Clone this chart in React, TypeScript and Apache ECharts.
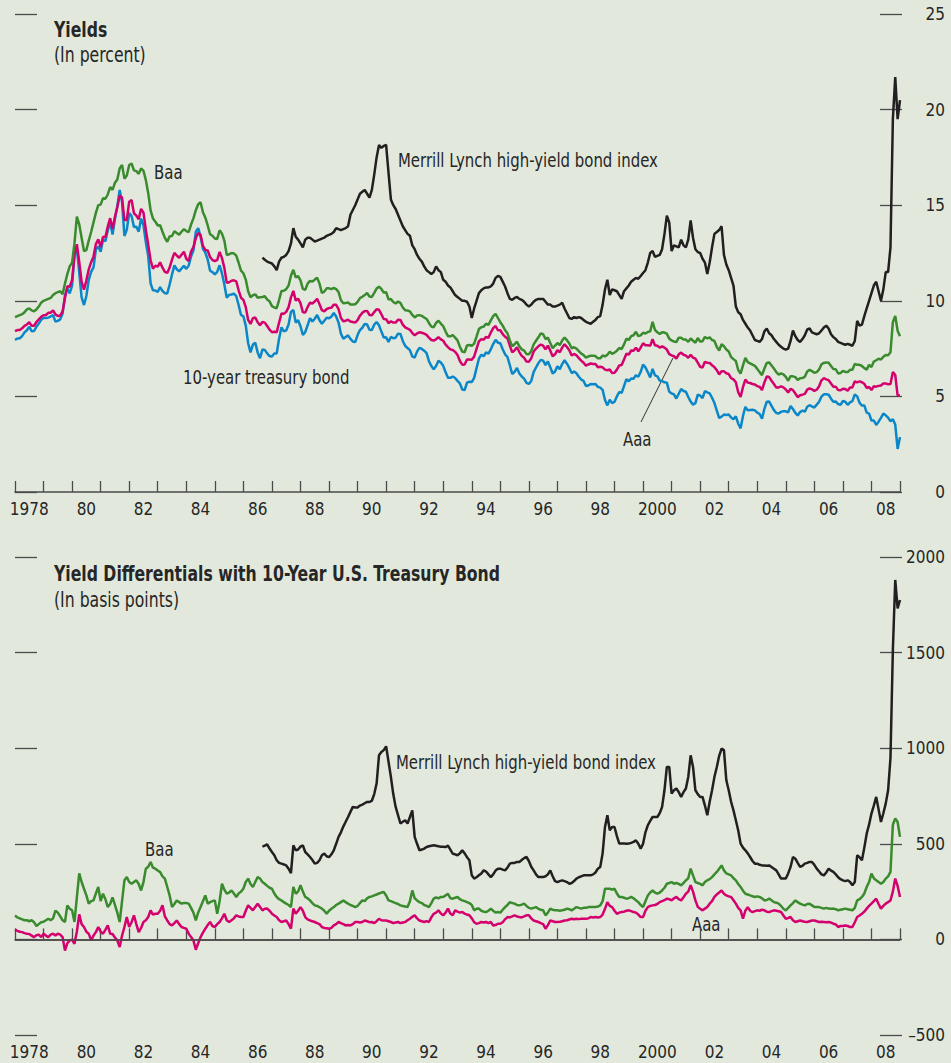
import React, { useEffect, useRef } from 'react';
import * as echarts from 'echarts';

// Monthly data, Jan 1978 (index 0) .. Jan 2009 (index 372)
const YEAR_CATS = ['1978','1979','1980','1981','1982','1983','1984','1985','1986','1987','1988','1989','1990','1991','1992','1993','1994','1995','1996','1997','1998','1999','2000','2001','2002','2003','2004','2005','2006','2007','2008'];

const T10 = [
  7.96, 8.03, 8.04, 8.15, 8.35, 8.46, 8.64, 8.41, 8.42, 8.64, 8.81, 9.01,
  9.10, 9.10, 9.12, 9.18, 9.25, 8.91, 8.95, 9.03, 9.33, 10.30, 10.65, 10.39,
  10.80, 12.41, 12.75, 11.47, 10.18, 9.78, 10.25, 11.10, 11.51, 11.75, 12.68, 12.84,
  12.57, 13.19, 13.12, 13.68, 14.10, 13.47, 14.28, 14.94, 15.80, 15.15, 13.39, 13.72,
  14.59, 14.43, 13.86, 13.87, 13.62, 14.30, 13.95, 13.06, 12.34, 10.91, 10.55, 10.54,
  10.46, 10.72, 10.51, 10.40, 10.38, 10.85, 11.38, 11.85, 11.65, 11.54, 11.69, 11.83,
  11.67, 11.84, 12.32, 12.63, 13.60, 13.80, 13.36, 12.72, 12.52, 12.16, 11.57, 11.50,
  11.38, 11.51, 11.86, 11.43, 10.85, 10.16, 10.31, 10.33, 10.37, 10.24, 9.78, 9.26,
  9.19, 8.70, 7.78, 7.30, 7.71, 7.80, 7.30, 7.00, 7.45, 7.43, 7.25, 7.11,
  7.08, 7.25, 7.25, 8.02, 8.61, 8.40, 8.45, 8.76, 9.42, 9.52, 8.86, 8.99,
  8.67, 8.21, 8.37, 8.72, 9.09, 8.92, 9.06, 9.26, 8.98, 8.80, 8.96, 9.11,
  9.09, 9.17, 9.36, 9.18, 8.86, 8.28, 8.02, 8.11, 8.19, 8.01, 7.87, 7.84,
  8.21, 8.47, 8.59, 8.79, 8.76, 8.48, 8.47, 8.75, 8.89, 8.72, 8.39, 8.08,
  8.09, 7.85, 8.11, 8.04, 8.07, 8.28, 8.27, 7.90, 7.65, 7.53, 7.42, 7.09,
  7.03, 7.34, 7.54, 7.48, 7.39, 7.26, 6.84, 6.59, 6.42, 6.59, 6.87, 6.77,
  6.60, 6.26, 5.98, 5.97, 6.04, 5.96, 5.81, 5.68, 5.36, 5.33, 5.72, 5.77,
  5.75, 5.97, 6.48, 6.97, 7.18, 7.10, 7.30, 7.24, 7.46, 7.74, 7.96, 7.81,
  7.78, 7.47, 7.20, 7.06, 6.63, 6.17, 6.28, 6.49, 6.20, 6.04, 5.93, 5.71,
  5.65, 5.81, 6.27, 6.51, 6.74, 6.91, 6.87, 6.64, 6.83, 6.53, 6.20, 6.30,
  6.58, 6.42, 6.69, 6.89, 6.71, 6.49, 6.22, 6.30, 6.21, 6.03, 5.88, 5.81,
  5.54, 5.57, 5.65, 5.64, 5.65, 5.50, 5.46, 5.34, 4.81, 4.53, 4.83, 4.65,
  4.72, 5.00, 5.23, 5.18, 5.54, 5.90, 5.79, 5.94, 5.92, 6.11, 6.03, 6.28,
  6.66, 6.52, 6.26, 5.99, 6.44, 6.10, 6.05, 5.83, 5.80, 5.74, 5.72, 5.24,
  5.16, 5.10, 4.89, 5.14, 5.39, 5.28, 5.24, 4.97, 4.73, 4.57, 4.65, 5.09,
  5.04, 4.91, 5.28, 5.21, 5.16, 4.93, 4.65, 4.26, 3.87, 3.94, 4.05, 4.03,
  4.05, 3.90, 3.81, 3.96, 3.57, 3.33, 3.98, 4.45, 4.27, 4.29, 4.30, 4.27,
  4.15, 4.08, 3.83, 4.35, 4.72, 4.73, 4.50, 4.28, 4.13, 4.10, 4.19, 4.23,
  4.22, 4.17, 4.50, 4.34, 4.14, 4.00, 4.18, 4.26, 4.20, 4.46, 4.54, 4.47,
  4.42, 4.57, 4.72, 4.99, 5.11, 5.11, 5.09, 4.88, 4.72, 4.73, 4.60, 4.56,
  4.76, 4.72, 4.56, 4.69, 4.75, 5.10, 5.00, 4.67, 4.52, 4.53, 4.15, 4.10,
  3.74, 3.74, 3.51, 3.68, 3.88, 4.10, 4.01, 3.89, 3.69, 3.81, 3.53, 2.25,
  2.87,
];

const AAA = [
  8.41, 8.47, 8.47, 8.56, 8.69, 8.76, 8.88, 8.69, 8.69, 8.89, 9.03, 9.16,
  9.25, 9.26, 9.37, 9.38, 9.50, 9.29, 9.20, 9.23, 9.44, 10.13, 10.76, 10.74,
  11.09, 12.38, 12.96, 12.04, 10.99, 10.58, 11.07, 11.64, 12.02, 12.31, 12.97, 13.21,
  12.81, 13.35, 13.33, 13.88, 14.32, 13.75, 14.38, 14.89, 15.49, 15.40, 14.22, 14.23,
  15.18, 15.27, 14.58, 14.46, 14.26, 14.81, 14.61, 13.71, 12.94, 12.12, 11.68, 11.83,
  11.79, 12.01, 11.73, 11.51, 11.46, 11.74, 12.15, 12.51, 12.37, 12.25, 12.41, 12.57,
  12.20, 12.08, 12.57, 12.81, 13.28, 13.55, 13.44, 12.87, 12.66, 12.63, 12.29, 12.13,
  12.08, 12.13, 12.56, 12.23, 11.72, 10.94, 10.97, 11.05, 11.07, 11.02, 10.55, 10.16,
  10.05, 9.67, 9.00, 8.79, 9.09, 9.13, 8.88, 8.72, 8.89, 8.86, 8.68, 8.49,
  8.36, 8.38, 8.36, 8.85, 9.33, 9.32, 9.42, 9.67, 10.18, 10.52, 10.01, 10.11,
  9.88, 9.40, 9.39, 9.67, 9.90, 9.86, 9.96, 10.11, 9.82, 9.51, 9.45, 9.57,
  9.62, 9.64, 9.80, 9.79, 9.57, 9.10, 8.93, 8.96, 9.01, 8.92, 8.89, 8.86,
  8.99, 9.22, 9.37, 9.46, 9.47, 9.26, 9.24, 9.41, 9.56, 9.53, 9.30, 9.05,
  9.04, 8.83, 8.93, 8.86, 8.86, 9.01, 9.00, 8.75, 8.61, 8.55, 8.48, 8.31,
  8.20, 8.29, 8.35, 8.33, 8.28, 8.22, 8.07, 7.95, 7.92, 7.99, 8.10, 7.98,
  7.91, 7.71, 7.58, 7.46, 7.43, 7.33, 7.17, 6.85, 6.66, 6.67, 6.93, 6.93,
  6.92, 7.08, 7.48, 7.88, 7.99, 7.97, 8.11, 8.07, 8.34, 8.57, 8.68, 8.46,
  8.46, 8.26, 8.12, 8.03, 7.65, 7.30, 7.41, 7.57, 7.32, 7.12, 7.02, 6.82,
  6.81, 6.99, 7.35, 7.50, 7.62, 7.71, 7.65, 7.46, 7.66, 7.39, 7.10, 7.20,
  7.42, 7.31, 7.55, 7.73, 7.58, 7.41, 7.14, 7.22, 7.15, 7.00, 6.87, 6.76,
  6.61, 6.67, 6.72, 6.69, 6.69, 6.53, 6.55, 6.52, 6.40, 6.37, 6.41, 6.22,
  6.24, 6.40, 6.62, 6.64, 6.93, 7.23, 7.19, 7.40, 7.39, 7.55, 7.36, 7.55,
  7.78, 7.68, 7.68, 7.64, 7.99, 7.67, 7.65, 7.55, 7.62, 7.55, 7.45, 7.21,
  7.15, 7.10, 6.98, 7.20, 7.29, 7.18, 7.13, 7.02, 7.17, 7.03, 6.97, 6.77,
  6.55, 6.51, 6.81, 6.76, 6.75, 6.63, 6.53, 6.37, 6.15, 6.32, 6.31, 6.21,
  6.17, 5.95, 5.89, 5.74, 5.22, 4.97, 5.49, 5.88, 5.72, 5.70, 5.65, 5.62,
  5.54, 5.50, 5.33, 5.73, 6.04, 6.01, 5.82, 5.65, 5.46, 5.47, 5.52, 5.47,
  5.36, 5.20, 5.40, 5.33, 5.15, 4.96, 5.06, 5.09, 5.13, 5.35, 5.42, 5.37,
  5.29, 5.35, 5.53, 5.84, 5.95, 5.89, 5.85, 5.68, 5.51, 5.51, 5.33, 5.32,
  5.40, 5.39, 5.30, 5.47, 5.47, 5.79, 5.73, 5.79, 5.74, 5.66, 5.44, 5.49,
  5.33, 5.53, 5.51, 5.55, 5.57, 5.68, 5.67, 5.64, 5.65, 6.28, 6.12, 5.05,
  5.05,
];

const BAA = [
  9.15, 9.20, 9.25, 9.30, 9.40, 9.55, 9.60, 9.50, 9.45, 9.55, 9.70, 9.90,
  10.00, 10.05, 10.10, 10.15, 10.30, 10.40, 10.45, 10.50, 10.35, 10.90, 11.40, 11.80,
  12.00, 13.00, 14.40, 14.00, 13.30, 12.60, 12.65, 13.15, 13.60, 14.10, 14.60, 15.00,
  15.03, 15.37, 15.34, 15.56, 15.95, 15.80, 16.17, 16.34, 16.92, 17.11, 16.39, 16.55,
  17.10, 17.18, 16.82, 16.78, 16.64, 16.92, 16.80, 16.32, 15.63, 14.73, 14.30, 14.14,
  13.94, 13.95, 13.61, 13.29, 13.09, 13.37, 13.39, 13.64, 13.55, 13.46, 13.61, 13.75,
  13.65, 13.59, 13.99, 14.31, 14.74, 15.05, 15.15, 14.63, 14.35, 13.94, 13.48, 13.40,
  13.26, 13.23, 13.69, 13.51, 13.15, 12.40, 12.43, 12.50, 12.48, 12.36, 11.99, 11.58,
  11.44, 11.11, 10.50, 10.19, 10.29, 10.34, 10.16, 10.18, 10.20, 10.24, 10.07, 9.97,
  9.72, 9.65, 9.61, 10.04, 10.51, 10.52, 10.61, 10.80, 11.31, 11.62, 11.23, 11.29,
  11.07, 10.62, 10.57, 10.90, 11.04, 11.00, 11.11, 11.21, 10.90, 10.41, 10.48, 10.65,
  10.65, 10.61, 10.67, 10.61, 10.46, 10.03, 9.87, 9.88, 9.91, 9.81, 9.81, 9.82,
  9.94, 10.14, 10.21, 10.30, 10.41, 10.22, 10.20, 10.41, 10.64, 10.74, 10.62, 10.43,
  10.45, 10.07, 10.09, 9.94, 9.86, 9.96, 9.89, 9.65, 9.51, 9.49, 9.45, 9.26,
  9.13, 9.23, 9.25, 9.21, 9.13, 9.05, 8.84, 8.65, 8.62, 8.84, 8.96, 8.81,
  8.67, 8.39, 8.15, 8.14, 8.21, 8.07, 7.93, 7.60, 7.34, 7.31, 7.66, 7.69,
  7.65, 7.76, 8.13, 8.52, 8.62, 8.65, 8.80, 8.74, 8.98, 9.20, 9.32, 9.10,
  8.88, 8.70, 8.46, 8.30, 7.93, 7.62, 7.73, 7.86, 7.62, 7.46, 7.40, 7.21,
  7.20, 7.37, 7.72, 7.91, 8.09, 8.30, 8.25, 8.00, 8.07, 7.79, 7.52, 7.66,
  7.79, 7.68, 7.92, 8.08, 7.94, 7.77, 7.52, 7.57, 7.50, 7.37, 7.24, 7.16,
  7.03, 7.09, 7.13, 7.12, 7.11, 6.99, 6.99, 7.14, 7.09, 7.18, 7.34, 7.23,
  7.29, 7.39, 7.53, 7.48, 7.72, 8.02, 7.95, 8.15, 8.20, 8.38, 8.15, 8.19,
  8.33, 8.29, 8.37, 8.40, 8.90, 8.48, 8.35, 8.26, 8.35, 8.34, 8.28, 8.02,
  7.93, 7.87, 7.84, 8.07, 8.07, 7.97, 7.97, 7.85, 8.03, 7.91, 7.81, 8.05,
  7.87, 7.89, 8.11, 8.03, 8.09, 7.95, 7.90, 7.58, 7.40, 7.73, 7.62, 7.45,
  7.35, 7.06, 6.95, 6.85, 6.38, 6.19, 6.62, 7.01, 6.79, 6.73, 6.66, 6.60,
  6.44, 6.27, 6.11, 6.46, 6.75, 6.78, 6.62, 6.46, 6.27, 6.14, 6.20, 6.15,
  6.02, 5.82, 6.06, 6.05, 6.01, 5.86, 5.95, 5.96, 6.03, 6.30, 6.39, 6.32,
  6.24, 6.27, 6.41, 6.68, 6.75, 6.78, 6.76, 6.59, 6.43, 6.42, 6.20, 6.22,
  6.34, 6.28, 6.27, 6.39, 6.39, 6.70, 6.65, 6.65, 6.59, 6.48, 6.40, 6.65,
  6.54, 6.82, 6.89, 6.97, 6.93, 7.07, 7.16, 7.15, 7.31, 8.88, 9.21, 8.43,
  8.14,
];

// Merrill Lynch high-yield index, Sep 1986 (month index 104) .. Jan 2009
const ML_START = 104;
const ML = [
  12.26, 12.15, 12.05, 12.00,
  11.95, 11.80, 11.60, 12.05, 12.25, 12.30, 12.40, 12.60, 13.00, 13.80, 13.35, 13.20,
  13.00, 12.80, 13.20, 13.30, 13.30, 13.20, 13.10, 13.15, 13.20, 13.25, 13.30, 13.40,
  13.45, 13.50, 13.60, 13.80, 13.75, 13.70, 13.75, 13.80, 13.90, 14.50, 14.75, 15.00,
  15.30, 15.60, 15.70, 15.80, 15.60, 15.40, 15.80, 16.60, 17.50, 18.15, 18.00, 18.10,
  18.15, 16.70, 15.30, 15.00, 14.80, 14.50, 14.20, 13.90, 13.70, 13.50, 13.40, 12.90,
  12.70, 12.40, 12.20, 12.05, 11.80, 11.60, 11.50, 11.40, 11.50, 11.80, 11.60, 11.50,
  11.10, 11.00, 10.80, 10.70, 10.50, 10.30, 10.20, 10.10, 10.00, 10.00, 9.95, 9.70,
  9.10, 9.60, 10.00, 10.40, 10.55, 10.65, 10.70, 10.70, 10.75, 10.90, 11.20, 11.30,
  11.25, 11.00, 10.75, 10.40, 10.10, 10.05, 10.15, 10.20, 10.10, 10.05, 9.95, 9.80,
  9.70, 9.80, 9.95, 10.05, 10.10, 10.10, 10.10, 9.95, 9.80, 9.80, 9.70, 9.70,
  9.75, 9.80, 9.90, 9.60, 9.35, 9.10, 9.05, 9.15, 9.10, 9.15, 9.10, 9.00,
  8.90, 8.85, 8.80, 8.90, 9.00, 9.15, 9.20, 9.80, 10.60, 11.10, 10.30, 10.60,
  10.55, 10.50, 10.30, 10.10, 10.50, 10.65, 10.80, 11.00, 11.10, 11.20, 11.15, 11.30,
  11.45, 11.60, 12.00, 12.50, 12.60, 12.30, 12.35, 12.40, 12.70, 13.50, 14.45, 14.10,
  12.60, 12.90, 12.85, 12.80, 13.20, 12.90, 12.80, 13.20, 14.20, 13.30, 12.70, 12.55,
  12.50, 12.20, 12.00, 11.40, 12.00, 12.80, 13.50, 13.60, 13.70, 13.90, 12.40, 11.90,
  11.60, 11.20, 10.80, 9.70, 9.40, 9.30, 9.00, 8.80, 8.60, 8.45, 8.20, 7.95,
  7.90, 7.85, 8.00, 8.40, 8.55, 8.30, 8.20, 8.00, 7.85, 7.70, 7.60, 7.50,
  7.45, 7.50, 7.90, 8.45, 8.15, 7.95, 7.85, 8.00, 8.20, 8.50, 8.55, 8.35,
  8.30, 8.25, 8.30, 8.45, 8.60, 8.70, 8.55, 8.25, 8.10, 8.00, 7.85, 7.80,
  7.75, 7.70, 7.75, 7.70, 7.65, 7.90, 8.95, 8.70, 8.75, 9.20, 9.60, 10.00,
  10.40, 10.80, 11.00, 10.50, 10.00, 10.60, 11.50, 11.50, 12.80, 19.50, 21.70, 19.50,
  20.50,
];

// Yield differentials vs 10-year treasury, basis points
const SPREAD_BAA = [
  125, 115, 110, 105, 100, 100, 95, 100, 90, 70, 80, 90,
  92, 100, 108, 100, 110, 150, 140, 120, 100, 91, 178, 160,
  152, 91, 220, 345, 300, 265, 230, 187, 200, 204, 240, 274,
  200, 239, 210, 169, 185, 220, 180, 140, 91, 200, 309, 326,
  300, 291, 300, 309, 290, 256, 300, 370, 380, 405, 375, 370,
  360, 352, 330, 318, 274, 230, 169, 185, 204, 195, 187, 190,
  190, 187, 165, 140, 99, 140, 169, 200, 230, 187, 195, 200,
  204, 134, 200, 291, 260, 239, 245, 256, 240, 222, 240, 250,
  265, 300, 318, 290, 274, 300, 326, 318, 300, 291, 280, 270,
  265, 240, 222, 210, 204, 195, 187, 180, 169, 274, 239, 250,
  283, 250, 222, 215, 204, 190, 178, 175, 168, 161, 150, 134,
  150, 160, 169, 180, 187, 195, 204, 195, 187, 180, 175, 169,
  175, 190, 204, 200, 215, 222, 225, 230, 235, 240, 245, 248,
  230, 204, 200, 195, 190, 185, 178, 175, 172, 169, 200, 256,
  215, 204, 195, 190, 180, 175, 169, 190, 213, 220, 215, 222,
  222, 230, 239, 215, 213, 218, 222, 210, 204, 200, 195, 190,
  180, 152, 160, 161, 150, 145, 143, 150, 161, 150, 140, 143,
  140, 155, 169, 180, 195, 190, 187, 180, 178, 182, 187, 175,
  165, 161, 165, 169, 160, 155, 152, 126, 140, 161, 155, 152,
  152, 150, 152, 155, 161, 158, 152, 160, 169, 165, 161, 165,
  165, 169, 170, 169, 170, 172, 178, 200, 265, 265, 265, 260,
  265, 240, 222, 222, 218, 213, 216, 222, 215, 205, 195, 180,
  169, 200, 230, 245, 256, 245, 239, 245, 256, 270, 291, 295,
  300, 291, 295, 290, 283, 295, 309, 320, 370, 335, 300, 295,
  290, 283, 300, 309, 315, 326, 340, 353, 370, 387, 361, 345,
  340, 335, 320, 309, 290, 274, 255, 239, 235, 230, 226, 222,
  225, 222, 215, 204, 206, 213, 205, 195, 192, 187, 175, 160,
  152, 165, 178, 190, 204, 195, 187, 182, 178, 185, 187, 178,
  169, 170, 169, 165, 161, 165, 161, 160, 161, 158, 152, 155,
  158, 161, 158, 155, 152, 165, 204, 210, 222, 240, 274, 300,
  344, 320, 309, 300, 291, 300, 318, 330, 353, 600, 632, 614,
  536,
];

const SPREAD_AAA = [
  51, 45, 40, 38, 33, 30, 28, 20, 12, 22, 25, 12,
  30, 20, 12, 25, 30, 21, 30, 25, 12, -58, -20, -5,
  -2, -23, 40, 131, 80, 65, 40, 30, -5, 20, 38, 65,
  40, 30, 50, 73, 30, 28, 10, -5, -40, 20, 65, 117,
  65, 90, 126, 80, 38, 60, 91, 100, 117, 152, 130, 134,
  134, 150, 178, 120, 99, 80, 73, 85, 99, 80, 65, 60,
  56, 30, 12, -5, -54, -20, 12, 35, 56, 75, 91, 70,
  65, 80, 91, 110, 134, 100, 91, 100, 110, 126, 120, 117,
  117, 150, 178, 165, 152, 170, 187, 170, 152, 160, 161, 150,
  134, 125, 117, 100, 91, 95, 99, 80, 56, 161, 134, 150,
  169, 150, 117, 105, 99, 95, 91, 85, 80, 65, 60, 58,
  56, 60, 73, 80, 91, 85, 80, 73, 75, 73, 80, 91,
  91, 88, 91, 99, 95, 90, 91, 85, 95, 108, 100, 99,
  99, 95, 91, 85, 88, 91, 85, 88, 91, 100, 108, 118,
  126, 110, 99, 95, 91, 96, 91, 115, 134, 140, 152, 135,
  126, 140, 161, 135, 126, 152, 145, 140, 143, 135, 130, 126,
  110, 90, 82, 85, 91, 88, 91, 85, 91, 73, 75, 82,
  82, 90, 105, 117, 115, 120, 126, 120, 117, 115, 120, 126,
  126, 110, 99, 95, 91, 85, 80, 56, 75, 99, 95, 91,
  91, 92, 95, 99, 100, 104, 108, 105, 108, 106, 108, 108,
  108, 110, 117, 115, 117, 115, 117, 130, 160, 195, 175, 169,
  150, 134, 140, 143, 145, 150, 152, 148, 143, 140, 130, 117,
  117, 150, 169, 175, 178, 180, 185, 195, 200, 205, 213, 210,
  204, 215, 222, 210, 204, 220, 239, 250, 283, 250, 204, 170,
  160, 152, 161, 170, 187, 200, 222, 235, 245, 256, 239, 230,
  225, 222, 205, 187, 165, 152, 108, 150, 169, 150, 143, 148,
  152, 150, 155, 152, 145, 143, 148, 152, 150, 147, 143, 125,
  108, 112, 117, 100, 91, 95, 99, 95, 92, 91, 95, 99,
  99, 95, 91, 92, 91, 90, 91, 88, 82, 78, 65, 70,
  70, 73, 70, 65, 65, 90, 117, 125, 134, 145, 161, 175,
  187, 200, 213, 185, 161, 175, 187, 195, 204, 250, 318, 280,
  222,
];

const SPREAD_ML = [
  485, 490, 497, 475,
  457, 440, 414, 400, 396, 392, 387, 370, 347, 492, 466, 470,
  485, 492, 457, 445, 431, 415, 396, 400, 414, 440, 449, 435,
  430, 445, 466, 500, 536, 560, 590, 615, 640, 667, 693, 690,
  690, 700, 705, 712, 719, 719, 725, 760, 815, 963, 980, 990,
  1010, 930, 850, 760, 693, 650, 606, 615, 623, 606, 640, 675,
  536, 500, 466, 470, 475, 483, 487, 490, 492, 490, 487, 485,
  485, 483, 490, 470, 448, 445, 440, 450, 466, 450, 430, 414,
  335, 318, 325, 335, 345, 361, 355, 340, 326, 340, 360, 370,
  370, 365, 361, 375, 396, 400, 400, 405, 405, 415, 425, 431,
  410, 380, 361, 340, 326, 326, 326, 330, 340, 361, 330, 305,
  300, 305, 309, 305, 300, 291, 295, 305, 318, 325, 330, 335,
  335, 335, 335, 340, 350, 370, 379, 450, 588, 649, 571, 588,
  588, 540, 501, 501, 501, 500, 501, 505, 510, 518, 500, 475,
  500, 560, 597, 620, 640, 640, 640, 660, 693, 780, 902, 902,
  763, 780, 789, 770, 745, 770, 789, 850, 963, 902, 780, 760,
  745, 745, 700, 649, 720, 780, 850, 902, 960, 998, 990, 832,
  780, 720, 675, 623, 570, 501, 480, 466, 450, 431, 410, 396,
  396, 390, 387, 387, 385, 387, 379, 370, 361, 340, 318, 318,
  318, 345, 379, 431, 422, 400, 379, 385, 396, 400, 405, 405,
  390, 370, 355, 340, 335, 350, 370, 360, 353, 340, 325, 315,
  309, 305, 309, 300, 283, 300, 440, 430, 414, 480, 553, 600,
  658, 700, 745, 680, 614, 660, 710, 780, 950, 1513, 1880, 1731,
  1775,
];

const FONT = '"DejaVu Sans Condensed", "DejaVu Sans", sans-serif';
const BG = '#e2e9dc';
const TXT = '#262626';
const AXIS = '#4a4a4a';
const C_BAA = '#3a8a2e';
const C_AAA = '#d4006e';
const C_T10 = '#0a86c9';
const C_ML = '#231f20';
const SQUEEZE = 0.83;

const toPairs = (arr: number[], start: number) => arr.map((v, i) => [1978 + (start + i) / 12, v]);

const yearLabel = (v: string) => (v === '1978' || v === '2000' ? v : v.slice(2));

function catAxis(grid: number) {
  return {
    gridIndex: grid,
    type: 'category',
    data: YEAR_CATS,
    boundaryGap: true,
    position: 'bottom',
    axisLine: { show: true, lineStyle: { color: AXIS, width: 1.5 } },
    axisTick: { show: true, inside: true, length: 11, interval: 0, lineStyle: { color: AXIS, width: 1.3 } },
    axisLabel: { interval: 1, formatter: yearLabel, color: TXT, fontSize: 17, fontFamily: FONT, margin: 8 },
    splitLine: { show: false },
  };
}

function valXAxis(grid: number) {
  return { gridIndex: grid, type: 'value', min: 1978, max: 2009, show: false };
}

function yAxes(grid: number, min: number, max: number, interval: number) {
  const tick = { show: true, inside: true, length: 22, lineStyle: { color: AXIS, width: 1.3 } };
  return [
    {
      gridIndex: grid, type: 'value', min, max, interval, position: 'right', offset: 2,
      axisLine: { show: false }, axisTick: tick, splitLine: { show: false },
      axisLabel: {
        align: 'right', margin: 43, color: TXT, fontSize: 17, fontFamily: FONT,
        formatter: (v: number) => (v < 0 ? '\u2013' + Math.abs(v) : String(v)),
      },
    },
    {
      gridIndex: grid, type: 'value', min, max, interval, position: 'left',
      axisLine: { show: false }, axisTick: tick, splitLine: { show: false }, axisLabel: { show: false },
    },
  ];
}

function line(name: string, data: number[][], color: string, xi: number, yi: number, z: number, extra: any = {}) {
  return {
    type: 'line', name, data, xAxisIndex: xi, yAxisIndex: yi, symbol: 'none', showSymbol: false,
    lineStyle: { color, width: 2.5 }, itemStyle: { color }, z, silent: true, ...extra,
  };
}

function txt(text: string, x: number, y: number, size: number, bold = false) {
  return {
    type: 'text', x, y, scaleX: SQUEEZE, silent: true,
    style: {
      text, fill: TXT, fontSize: size, fontFamily: FONT, fontWeight: bold ? 'bold' : 'normal',
      align: 'left', verticalAlign: 'top',
    },
  };
}

export default function App() {
  const ref = useRef<HTMLDivElement>(null);
  useEffect(() => {
    if (!ref.current) return;
    const chart = echarts.init(ref.current, undefined, { renderer: 'svg' });
    const option: any = {
      animation: false,
      backgroundColor: BG,
      textStyle: { fontFamily: FONT },
      grid: [
        { left: 15, top: 14, width: 885, height: 478 },
        { left: 15, top: 557, width: 885, height: 478 },
      ],
      xAxis: [catAxis(0), valXAxis(0), catAxis(1), valXAxis(1)],
      yAxis: [...yAxes(0, 0, 25, 5), ...yAxes(1, -500, 2000, 500)],
      series: [
        line('10-year treasury bond', toPairs(T10, 0), C_T10, 1, 0, 2),
        line('Aaa', toPairs(AAA, 0), C_AAA, 1, 0, 3),
        line('Baa', toPairs(BAA, 0), C_BAA, 1, 0, 4),
        line('Merrill Lynch high-yield bond index', toPairs(ML, ML_START), C_ML, 1, 0, 5),
        line('Aaa spread', toPairs(SPREAD_AAA, 0), C_AAA, 3, 2, 3, {
          markLine: {
            silent: true, symbol: ['none', 'none'], label: { show: false },
            lineStyle: { color: AXIS, width: 1.5, type: 'solid' }, data: [{ yAxis: 0 }],
          },
        }),
        line('Baa spread', toPairs(SPREAD_BAA, 0), C_BAA, 3, 2, 4),
        line('Merrill Lynch spread', toPairs(SPREAD_ML, ML_START), C_ML, 3, 2, 5),
      ],
      graphic: [
        txt('Yields', 54, 19, 21, true),
        txt('(In percent)', 54, 44, 21),
        txt('Yield Differentials with 10-Year U.S. Treasury Bond', 54, 563, 21, true),
        txt('(In basis points)', 54, 589, 21),
        txt('Baa', 154, 162, 20),
        txt('Merrill Lynch high-yield bond index', 398, 150, 20),
        txt('10-year treasury bond', 183, 367, 20),
        txt('Aaa', 623, 429, 20),
        { type: 'line', silent: true, shape: { x1: 641, y1: 422, x2: 673, y2: 358 }, style: { stroke: '#333', lineWidth: 1 } },
        txt('Baa', 145, 839, 20),
        txt('Merrill Lynch high-yield bond index', 396, 752, 20),
        txt('Aaa', 692, 914, 20),
      ],
    };
    chart.setOption(option);
    return () => chart.dispose();
  }, []);
  return <div ref={ref} style={{ position: 'fixed', left: 0, top: 0, width: 951, height: 1063 }} />;
}
